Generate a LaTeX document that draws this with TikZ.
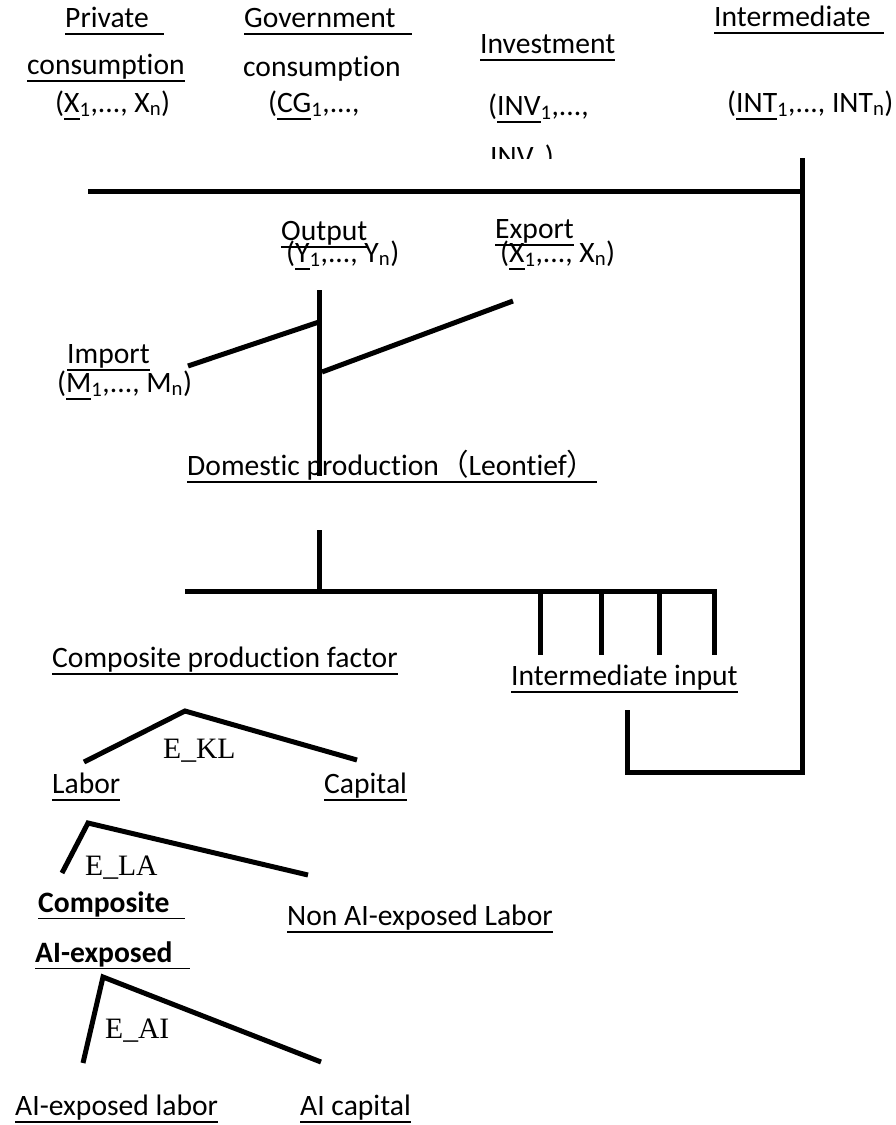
\documentclass[tikz,border=0pt]{standalone}
\usepackage{fontspec}
\setmainfont{Carlito}[Ligatures=NoCommon]
\newfontfamily\serifE{Liberation Serif}
\newfontfamily\cjk{Noto Sans CJK SC}
\usepackage{tikz}
\usetikzlibrary{calc}
\definecolor{ink}{RGB}{0,0,0}
\newcommand\uln[1]{\vtop{\hbox{\vphantom{p}#1}\kern1pt\hrule height 1.8pt}}
\tikzset{
  lbl/.style={anchor=base west, inner sep=0pt, text=ink,
              font=\fontsize{29.6}{34}\selectfont},
  lblbold/.style={lbl, font=\fontsize{29.6}{34}\selectfont\bfseries},
  elast/.style={lbl, font=\fontsize{29.6}{34}\selectfont\serifE},
  bar/.style={draw=ink, line width=5pt, line join=miter},
}

\begin{document}
\begin{tikzpicture}[x=1pt,y=-1pt]
  \useasboundingbox (0,0) rectangle (895,1125);
  % demand blocks
  \node[lbl] (privA) at (65,27) {\uln{Private\hspace{15pt}}};
  \node[lbl] (privB) at (27,74) {\uln{consumption}};
  \node[lbl] (privC) at (55,112) {(\uln{X}\textsubscript{1},..., X\textsubscript{n})};
  \node[lbl] (govA) at (244,27) {\uln{Government\hspace{16pt}}};
  \node[lbl] (govB) at (243,76) {consumption};
  \node[lbl] (govC) at (268,112) {(\uln{CG}\textsubscript{1},...,};
  \node[lbl] (invA) at (480,53) {\uln{Investment}};
  \node[lbl] (invB) at (488,115) {(\uln{INV}\textsubscript{1},...,};
  \begin{scope}
    \clip (470,140) rectangle (620,158);
    \node[lbl] (invC) at (490,166) {INV\textsubscript{n})};
  \end{scope}
  \node[lbl] (intA) at (714,26) {\uln{Intermediate\hspace{13pt}}};
  \node[lbl] (intB) at (727,112) {(\uln{INT}\textsubscript{1},..., INT\textsubscript{n})};
  % output, trade
  \node[lbl] (outA) at (281,240) {\uln{Output}};
  \node[lbl] (outB) at (286,262) {(\uln{Y}\textsubscript{1},..., Y\textsubscript{n})};
  \node[lbl] (expA) at (495,238) {\uln{Export}};
  \node[lbl] (expB) at (500,262) {(\uln{X}\textsubscript{1},..., X\textsubscript{n})};
  \node[lbl] (impA) at (67,363) {\uln{Import}};
  \node[lbl] (impB) at (57,392) {(\uln{M}\textsubscript{1},..., M\textsubscript{n})};
  \node[lbl] (dom) at (187,475) {\uln{Domestic production{\cjk （}Leontief{\cjk ）}}};
  % production nest
  \node[lbl] (cpf) at (52,667) {\uln{Composite production factor}};
  \node[lbl] (ii) at (511,685) {\uln{Intermediate input}};
  \node[elast] (ekl) at (163,758) {E\_KL};
  \node[lbl] (labor) at (52,793) {\uln{Labor}};
  \node[lbl] (capital) at (324,793) {\uln{Capital}};
  \node[elast] (ela) at (85,875) {E\_LA};
  \node[lblbold] (compA) at (38,912) {\uln{Composite\hspace{15pt}}};
  \node[lbl] (nonai) at (287,925) {\uln{Non AI-exposed Labor}};
  \node[lblbold] (compB) at (35,962) {\uln{AI-exposed\hspace{17pt}}};
  \node[elast] (eai) at (105,1038) {E\_AI};
  \node[lbl] (ailab) at (15,1115) {\uln{AI-exposed labor}};
  \node[lbl] (aicap) at (300,1115) {\uln{AI capital}};

  % junction points
  \coordinate (topL) at (88,191);
  \coordinate (topR) at (802,191);
  \coordinate (riseT) at (802,158);
  \coordinate (riseB) at (802,772);
  \coordinate (iiB) at (627,772);
  \coordinate (iiT) at (627,710);
  \coordinate (outS) at (319,290);
  \coordinate (outE) at (319,476);
  \coordinate (impE) at (188,366);
  \coordinate (impJ) at (319,322);
  \coordinate (expJ) at (322,372);
  \coordinate (expE) at (513,301);
  \coordinate (domS) at (319,530);
  \coordinate (midJ) at (319,591);
  \coordinate (midL) at (185,591);
  \coordinate (midR) at (715,591);
  \coordinate (klL) at (84,762);
  \coordinate (klT) at (185,711);
  \coordinate (klR) at (357,760);
  \coordinate (laL) at (62,873);
  \coordinate (laT) at (88,823);
  \coordinate (laR) at (308,875);
  \coordinate (aiL) at (83,1063);
  \coordinate (aiT) at (103,977);
  \coordinate (aiR) at (321,1062);

  % connectors
  \draw[bar] (topL) -- (topR);
  \draw[bar] (riseT) -- (riseB) -- (iiB) -- (iiT);
  \draw[bar] (outS) -- (outE);
  \draw[bar] (impE) -- (impJ);
  \draw[bar] (expJ) -- (expE);
  \draw[bar] (domS) -- (midJ);
  \draw[bar] (midL) -- (midR);
  \foreach \x [count=\i] in {540,601,659,714} {
    \coordinate (stubT\i) at (\x,589);
    \coordinate (stubB\i) at (\x,655);
    \draw[bar] (stubT\i) -- (stubB\i);
  }
  \draw[bar] (klL) -- (klT) -- (klR);
  \draw[bar] (laL) -- (laT) -- (laR);
  \draw[bar] (aiL) -- (aiT) -- (aiR);
\end{tikzpicture}
\end{document}
